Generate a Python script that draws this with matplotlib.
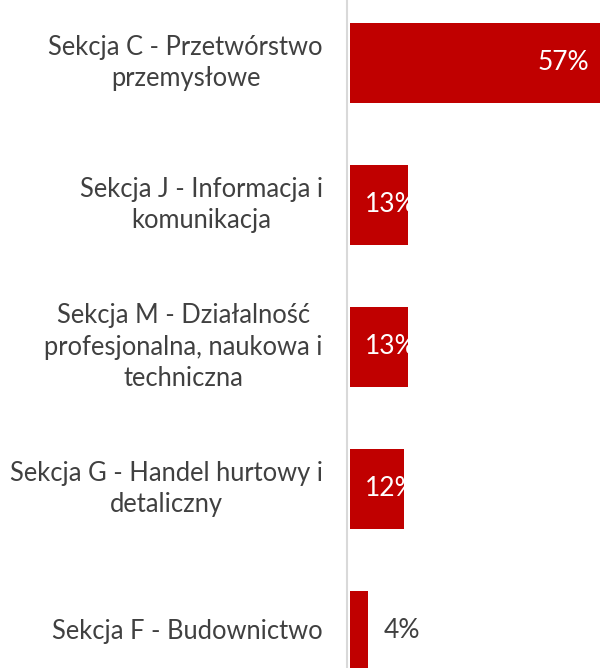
import matplotlib
matplotlib.use('Agg')
from matplotlib import pyplot as plt
from matplotlib.transforms import blended_transform_factory

plt.rcParams['font.family'] = ['Lato', 'DejaVu Sans']

# Data
categories = [
    'Sekcja C - Przetwórstwo\nprzemysłowe',
    'Sekcja J - Informacja i\nkomunikacja',
    'Sekcja M - Działalność\nprofesjonalna, naukowa i\ntechniczna',
    'Sekcja G - Handel hurtowy i\ndetaliczny',
    'Sekcja F - Budownictwo',
]
values = [57, 13, 13, 12, 4]
labels = ['57%', '13%', '13%', '12%', '4%']

RED = '#c00000'
GREY = '#404040'
FS = 18.4
VFS = 19

fig = plt.figure(figsize=(6.0, 6.68), dpi=100)
# axes spans from the vertical axis line to the right edge
ax = fig.add_axes([350 / 600, 0, 250 / 600, 1])

pos = list(range(len(values)))
bars = ax.barh(pos, values, height=0.563, color=RED)

ax.set_xlim(0, 250 / 4.46)
ax.set_ylim((668 - 63) / 142, -63 / 142)
ax.set_xticks([])
ax.set_yticks([])

# category labels, block right edge a bit left of the axis, lines centred
tr = blended_transform_factory(fig.transFigure, ax.transData)
for i, cat in enumerate(categories):
    ax.text(323 / 600, i, cat, transform=tr, ha='right', va='center',
            multialignment='center', linespacing=1.33, fontsize=FS,
            color=GREY)

for s in ['top', 'right', 'bottom']:
    ax.spines[s].set_visible(False)
ax.spines['left'].set_color('#d9d9d9')
ax.spines['left'].set_linewidth(1.5)
ax.spines['left'].set_position(('outward', 2))

# value labels (small bars: label clipped by the bar, like in Excel)
for i, (v, lab, bar) in enumerate(zip(values, labels, bars)):
    if v > 20:
        ax.annotate(lab, (v, i), xytext=(-15 * 0.72, 0), textcoords='offset points',
                    ha='right', va='center', color='white', fontsize=VFS,
                    annotation_clip=False)
    elif v >= 10:
        t = ax.annotate(lab, (0, i), xytext=(15 * 0.72, 0), textcoords='offset points',
                        ha='left', va='center', color='white', fontsize=VFS)
        t.set_clip_path(bar)
    else:
        ax.annotate(lab, (v, i), xytext=(16 * 0.72, 0), textcoords='offset points',
                    ha='left', va='center', color=GREY, fontsize=VFS)

fig.savefig('out.png', dpi=100)
